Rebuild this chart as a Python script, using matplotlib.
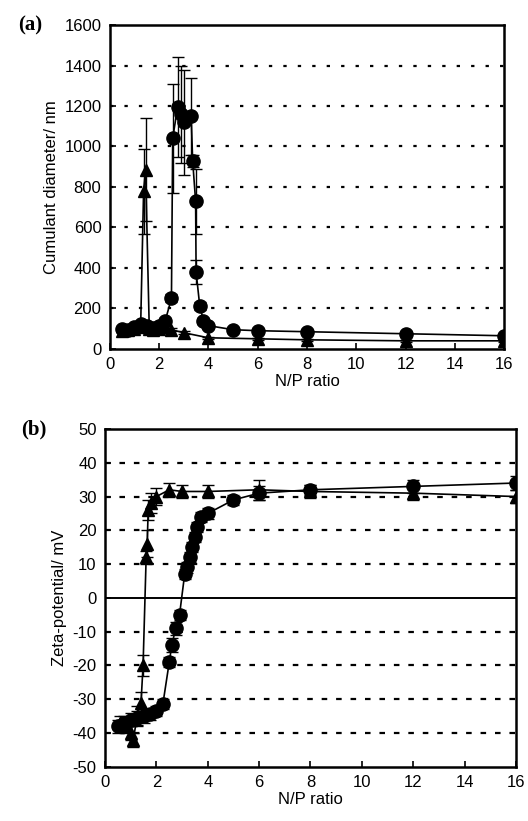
import numpy as np
from matplotlib import pyplot as plt

plt.rcParams['font.family'] = ['Liberation Sans', 'DejaVu Sans']
plt.rcParams['axes.unicode_minus'] = False

# (a) cumulant diameter vs N/P ratio
circ_x_a = [0.5, 0.75, 1.0, 1.25, 1.5, 1.75, 2.0, 2.25, 2.5, 2.55, 2.75, 2.87, 3.0, 3.3, 3.36, 3.48, 3.5, 3.65, 3.8, 4.0, 5, 6, 8, 12, 16]
circ_y_a = [100, 95, 110, 125, 115, 105, 115, 140, 250, 1040, 1195, 1160, 1120, 1150, 930, 730, 380, 210, 140, 115, 95, 90, 85, 75, 65]
circ_e_a = [10, 10, 10, 10, 10, 10, 10, 15, 20, 270, 245, 240, 260, 190, 30, 160, 60, 20, 15, 10, 8, 8, 8, 8, 8]

tri_x_a = [0.5, 0.75, 1.0, 1.25, 1.37, 1.45, 1.6, 1.75, 2.0, 2.25, 2.5, 3.0, 4, 6, 8, 12, 16]
tri_y_a = [90, 95, 100, 110, 780, 885, 100, 95, 100, 110, 95, 80, 55, 50, 45, 40, 40]
tri_e_a = [8, 8, 8, 10, 210, 255, 10, 8, 8, 10, 8, 8, 6, 6, 6, 6, 6]

# (b) zeta potential vs N/P ratio
circ_x_b = [0.5, 0.75, 1.0, 1.25, 1.5, 1.75, 2.0, 2.25, 2.5, 2.6, 2.75, 2.9, 3.1, 3.2, 3.3, 3.4, 3.5, 3.6, 3.75, 4.0, 5, 6, 8, 12, 16]
circ_y_b = [-38, -37, -36, -35.5, -35, -34.5, -33.5, -31.5, -19, -14, -9, -5, 7, 9, 12, 15, 18, 21, 24, 25, 29, 31, 32, 33, 34]
circ_e_b = [2, 2, 2, 2, 2, 1.5, 1.5, 1.5, 1.5, 2, 2, 1.5, 1.5, 1.5, 1.5, 1.5, 1.5, 1.5, 1.5, 1.5, 1.5, 2, 1.5, 2, 2]

tri_x_b = [0.6, 0.8, 1.0, 1.1, 1.25, 1.4, 1.48, 1.6, 1.64, 1.68, 1.8, 2.0, 2.5, 3.0, 4.0, 6.0, 8.0, 12.0, 16.0]
tri_y_b = [-37, -38, -40, -42, -35, -31, -20, 12, 16, 26, 28, 30, 32, 31.5, 31.5, 32, 31.5, 31, 30]
tri_e_b = [2, 2, 2, 2, 3, 3, 3, 2, 4, 3, 3, 2.5, 2, 2, 2, 3, 2, 2, 2]

fig = plt.figure(figsize=(5.28, 8.21), dpi=100)
ax_a = fig.add_axes([0.208, 0.575, 0.747, 0.3945])
ax_b = fig.add_axes([0.199, 0.066, 0.778, 0.4115])


def style_axes(ax, yticks, ylabel, grid_vals, dashes):
    ax.set_xlim(0, 16)
    ax.set_xticks(range(0, 17, 2))
    ax.set_yticks(yticks)
    for g in grid_vals:
        ax.axhline(g, color='black', lw=1.6, dashes=dashes, zorder=1)
    for s in ax.spines.values():
        s.set_linewidth(1.8)
    ax.tick_params(direction='in', length=4, width=1.2, labelsize=12, pad=6)
    ax.set_xlabel("N/P ratio", fontsize=12, labelpad=1)
    ax.set_ylabel(ylabel, fontsize=12, labelpad=4)


eb = dict(color='black', lw=1.2, elinewidth=1.0, capsize=4, capthick=1.0, zorder=3)

ax_a.errorbar(circ_x_a, circ_y_a, yerr=circ_e_a, fmt='-o', ms=9.5, **eb)
ax_a.errorbar(tri_x_a, tri_y_a, yerr=tri_e_a, fmt='-^', ms=8.5, **eb)
ax_a.set_ylim(0, 1600)
style_axes(ax_a, range(0, 1601, 200), "Cumulant diameter/ nm", range(200, 1401, 200), (1.5, 5))

ax_b.errorbar(circ_x_b, circ_y_b, yerr=circ_e_b, fmt='-o', ms=9.5, **eb)
ax_b.errorbar(tri_x_b, tri_y_b, yerr=tri_e_b, fmt='-^', ms=8.5, **eb)
ax_b.set_ylim(-50, 50)
ax_b.axhline(0, color='black', lw=1.4, zorder=1)
style_axes(ax_b, range(-50, 51, 10), "Zeta-potential/ mV", [-40, -30, -20, -10, 10, 20, 30, 40], (2.5, 4))

fig.text(0.035, 0.969, "(a)", fontsize=15, fontweight='bold', family='Liberation Serif', va='center')
fig.text(0.040, 0.477, "(b)", fontsize=15, fontweight='bold', family='Liberation Serif', va='center')

fig.savefig("out.png", dpi=100)
